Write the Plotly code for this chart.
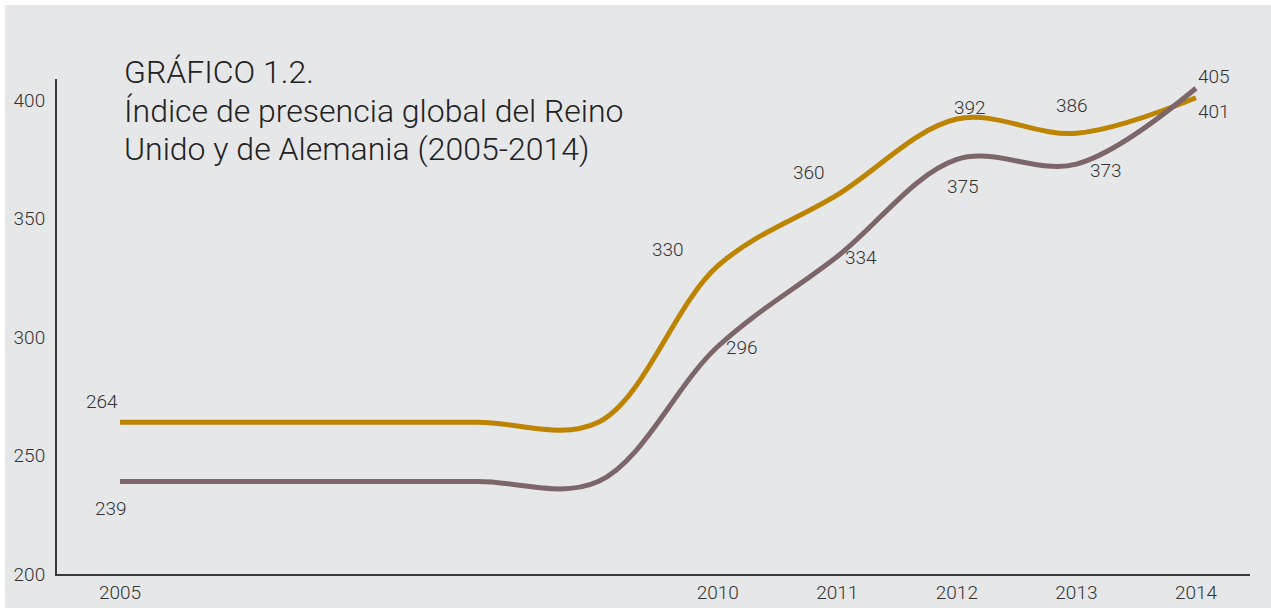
import plotly.graph_objects as go

# Data
years = [2005, 2006, 2007, 2008, 2009, 2010, 2011, 2012, 2013, 2014]
reino_unido = [264, 264, 264, 264, 264, 330, 360, 392, 386, 401]
alemania = [239, 239, 239, 239, 239, 296, 334, 375, 373, 405]
labelled_years = [2005, 2010, 2011, 2012, 2013, 2014]
tick_years = [2005, 2010, 2011, 2012, 2013, 2014]
y_ticks = [200, 250, 300, 350, 400]

title_lines = [
    "GRÁFICO 1.2.",
    "Índice de presencia global del Reino",
    "Unido y de Alemania (2005-2014)",
]

GOLD = "#BC8400"
MAUVE = "#7D666A"
BG = "#E6E7E8"
TEXT = "#333333"

# label offsets (px) per labelled year
gold_offsets = [(-18, 21), (-50, 16), (-28, 22), (13, 12), (-4, 28), (18, -14)]
mauve_offsets = [(-9, -27), (24, -1), (24, -1), (6, -27), (30, -6), (18, 12)]

fig = go.Figure()
for vals, color, name in [(reino_unido, GOLD, "Reino Unido"), (alemania, MAUVE, "Alemania")]:
    fig.add_trace(
        go.Scatter(
            x=years,
            y=vals,
            mode="lines",
            name=name,
            line=dict(color=color, width=5, shape="spline", smoothing=1),
            hoverinfo="x+y",
        )
    )

for vals, offsets in [(reino_unido, gold_offsets), (alemania, mauve_offsets)]:
    for yr, (dx, dy) in zip(labelled_years, offsets):
        v = vals[years.index(yr)]
        fig.add_annotation(
            x=yr,
            y=v,
            text=str(v),
            showarrow=False,
            xshift=dx,
            yshift=dy,
            font=dict(family="Roboto", size=19, color=TEXT, weight=300),
        )

# title, one annotation per line for tighter spacing
for i, line in enumerate(title_lines):
    fig.add_annotation(
        xref="paper",
        yref="paper",
        x=(122 - 57) / 1193,
        y=(574 - 51 - 38.5 * i) / 495,
        xanchor="left",
        yanchor="top",
        align="left",
        showarrow=False,
        text=line,
        font=dict(family="Roboto", size=32, color="#222222", weight=300),
    )

# gray panel with thin white strip at top/left
fig.add_shape(
    type="rect",
    xref="paper",
    yref="paper",
    x0=(5 - 57) / 1193,
    x1=(1275 - 57) / 1193,
    y0=(574 - 612) / 495,
    y1=(574 - 5) / 495,
    fillcolor=BG,
    line=dict(width=0),
    layer="below",
)

fig.update_layout(
    width=1271,
    height=608,
    margin=dict(l=57, r=21, t=79, b=34),
    paper_bgcolor="white",
    plot_bgcolor="rgba(0,0,0,0)",
    showlegend=False,
    font=dict(family="Roboto", color=TEXT),
)
fig.update_xaxes(
    range=[2004.473, 2014.452],
    tickvals=tick_years,
    ticktext=[str(t) for t in tick_years],
    automargin=False,
    showgrid=False,
    zeroline=False,
    showline=True,
    linecolor="#3a3a3a",
    linewidth=2,
    ticks="",
    tickfont=dict(family="Roboto", size=19, color=TEXT, weight=300),
)
fig.update_yaxes(
    range=[200, 408.9],
    tickvals=y_ticks,
    automargin=False,
    showgrid=False,
    zeroline=False,
    showline=True,
    linecolor="#3a3a3a",
    linewidth=2,
    ticks="",
    ticklabelstandoff=6,
    tickfont=dict(family="Roboto", size=19, color=TEXT, weight=300),
)

fig.write_html(
    "out.html",
    config={"displayModeBar": False},
    post_script="document.body.style.margin='0';",
)
